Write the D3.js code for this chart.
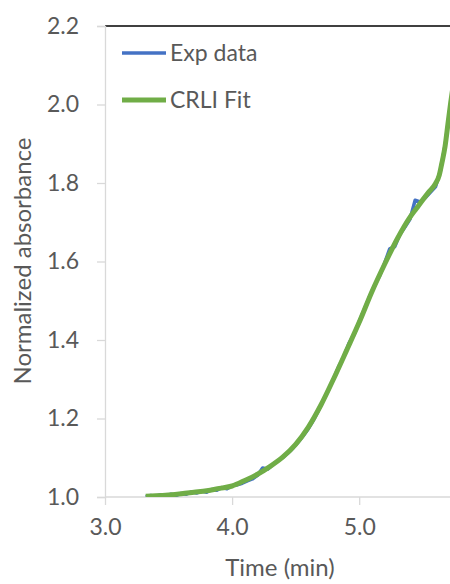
<!DOCTYPE html>
<html><head><meta charset="utf-8">
<script src="https://cdn.jsdelivr.net/npm/d3@7"></script>
<style>body{margin:0;background:#fff}svg{display:block}text{font-family:Lato,"Liberation Sans",Arial,sans-serif;fill:#595959}</style>
</head><body><svg id="c" width="450" height="584"></svg>
<script>
const xTicks = [3.0, 4.0, 5.0];
const yTicks = [1.0, 1.2, 1.4, 1.6, 1.8, 2.0, 2.2];
const seriesNames = ["Exp data", "CRLI Fit"];
const expX = [3.32,3.36,3.40,3.44,3.48,3.52,3.56,3.60,3.64,3.68,3.72,3.76,3.80,3.84,3.88,3.92,3.96,4.00,4.04,4.08,4.12,4.16,4.20,4.24,4.28,4.32,4.36,4.40,4.44,4.48,4.52,4.56,4.60,4.64,4.68,4.72,4.76,4.80,4.84,4.88,4.92,4.96,5.00,5.04,5.08,5.12,5.16,5.20,5.24,5.28,5.32,5.36,5.40,5.44,5.48,5.52,5.56,5.60,5.64,5.68,5.72];
const expY = [1.001,1.004,1.002,1.006,1.003,1.007,1.004,1.009,1.007,1.013,1.010,1.015,1.012,1.019,1.017,1.024,1.021,1.029,1.031,1.035,1.041,1.046,1.055,1.074,1.071,1.083,1.092,1.101,1.112,1.125,1.140,1.156,1.174,1.196,1.221,1.248,1.274,1.302,1.333,1.358,1.392,1.414,1.447,1.478,1.509,1.538,1.563,1.596,1.632,1.638,1.669,1.688,1.708,1.756,1.752,1.762,1.776,1.790,1.832,1.905,2.005];
const fitX = [3.32,3.40,3.50,3.60,3.70,3.80,3.90,4.00,4.10,4.20,4.30,4.40,4.50,4.60,4.70,4.80,4.90,5.00,5.10,5.20,5.30,5.40,5.45,5.50,5.55,5.60,5.63,5.65,5.675,5.70,5.72,5.74];
const fitY = [1.002,1.003,1.005,1.008,1.012,1.016,1.022,1.028,1.042,1.058,1.078,1.102,1.134,1.178,1.235,1.302,1.373,1.445,1.523,1.593,1.658,1.713,1.735,1.757,1.778,1.798,1.820,1.850,1.892,1.955,2.005,2.050];

const svg = d3.select("#c");
const L = 105, T = 26, B = 497;
const x = d3.scaleLinear().domain([3, 6]).range([L, L + 3 * 127.1]);
const y = d3.scaleLinear().domain([1.0, 2.2]).range([B, T]);

// top border
svg.append("line").attr("x1", L).attr("x2", 450).attr("y1", T).attr("y2", T)
  .attr("stroke", "#000").attr("stroke-width", 1.3);

// axes
const yAxis = svg.append("g").attr("transform", `translate(${L},0)`)
  .call(d3.axisLeft(y).tickValues(yTicks).tickFormat(d3.format(".1f")).tickSize(8).tickPadding(18));
const xAxis = svg.append("g").attr("transform", `translate(0,${B})`)
  .call(d3.axisBottom(x).tickValues(xTicks).tickFormat(d3.format(".1f")).tickSize(8).tickPadding(14));
[yAxis, xAxis].forEach(g => {
  g.select(".domain").attr("stroke", "#d9d9d9").attr("stroke-width", 1.3);
  g.selectAll(".tick line").attr("stroke", "#d9d9d9").attr("stroke-width", 1.3);
  g.selectAll(".tick text").attr("fill", "#595959").style("font-size", "23px").style("font-family", "Lato, 'Liberation Sans', Arial, sans-serif");
});
xAxis.select(".domain").attr("d", `M${L},0H450`);

svg.append("defs").append("clipPath").attr("id", "pc")
  .append("rect").attr("x", L).attr("y", 0).attr("width", 450 - L).attr("height", B);
const plot = svg.append("g").attr("clip-path", "url(#pc)");

const expData = expX.map((v, i) => [v, expY[i]]);
const fitData = fitX.map((v, i) => [v, fitY[i]]);
plot.append("path").datum(expData)
  .attr("d", d3.line().x(d => x(d[0])).y(d => y(d[1])))
  .attr("fill", "none").attr("stroke", "#4472C4").attr("stroke-width", 3.5).attr("stroke-linejoin", "round");
plot.append("path").datum(fitData)
  .attr("d", d3.line().x(d => x(d[0])).y(d => y(d[1])).curve(d3.curveMonotoneX))
  .attr("fill", "none").attr("stroke", "#70AD47").attr("stroke-width", 5).attr("stroke-linejoin", "round");

// axis titles
svg.append("text").attr("x", 280).attr("y", 576).attr("text-anchor", "middle")
  .style("font-size", "24px").text("Time (min)");
svg.append("text").attr("transform", "translate(31,261) rotate(-90)").attr("text-anchor", "middle")
  .style("font-size", "24px").text("Normalized absorbance");

// legend
const colors = ["#4472C4", "#70AD47"];
const widths = [3.5, 5];
seriesNames.forEach((n, i) => {
  const ly = 53 + i * 47;
  svg.append("line").attr("x1", 122).attr("x2", 166).attr("y1", ly).attr("y2", ly)
    .attr("stroke", colors[i]).attr("stroke-width", widths[i]);
  svg.append("text").attr("x", 170).attr("y", ly + 8).style("font-size", "23px").text(n);
});
</script></body></html>
